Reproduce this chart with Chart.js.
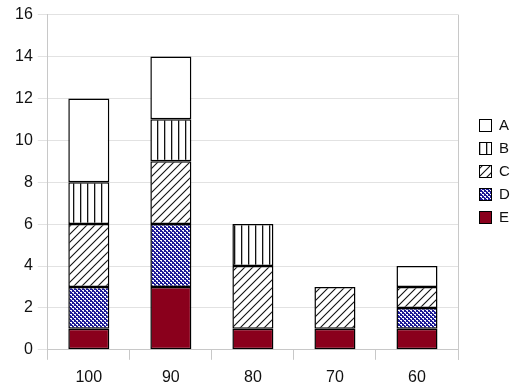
<!doctype html>
<html lang="en">
  <head>
    <meta charset="utf-8">
    <title>Stacked bars</title>
    <script src="https://cdn.jsdelivr.net/npm/chart.js"></script>
    <style>
      body { margin: 0; background: #fff; }
    </style>
  </head>
  <body>
    <canvas id="chart" width="519" height="389"></canvas>
    <script>
      var categories = ["100", "90", "80", "70", "60"];
      var seriesA = [4, 3, 0, 0, 1];
      var seriesB = [2, 2, 2, 0, 0];
      var seriesC = [3, 3, 3, 2, 1];
      var seriesD = [2, 3, 0, 0, 1];
      var seriesE = [1, 3, 1, 1, 1];
      var legendOrder = ["A", "B", "C", "D", "E"];

      // little tiles used as fills
      function makeTile(w, h, draw) {
        var c = document.createElement("canvas");
        c.width = w;
        c.height = h;
        var g = c.getContext("2d");
        g.fillStyle = "#fff";
        g.fillRect(0, 0, w, h);
        draw(g);
        return document.getElementById("chart").getContext("2d").createPattern(c, "repeat");
      }

      var vertLines = makeTile(7, 7, function(g) {
        g.fillStyle = "#111";
        g.fillRect(3, 0, 1.3, 7);
      });

      var diagLines = makeTile(8, 8, function(g) {
        g.strokeStyle = "#111";
        g.lineWidth = 1.1;
        g.beginPath();
        g.moveTo(-1, 9); g.lineTo(9, -1);
        g.moveTo(-1, 1); g.lineTo(1, -1);
        g.moveTo(7, 9); g.lineTo(9, 7);
        g.stroke();
      });

      var checks = makeTile(4, 4, function(g) {
        g.fillStyle = "#1c1a96";
        g.fillRect(0, 0, 4, 4);
        g.fillStyle = "#fff";
        g.fillRect(0, 0, 2, 1);
        g.fillRect(2, 2, 2, 1);
        g.fillStyle = "#d8d8f0";
        g.fillRect(1, 1, 1, 1);
        g.fillRect(3, 3, 1, 1);
      });

      // right frame line + legend at the side
      var extras = {
        id: "extras",
        afterDraw: function(chart) {
          var a = chart.chartArea;
          var ctx = chart.ctx;
          ctx.save();
          ctx.strokeStyle = "#c8c8c8";
          ctx.lineWidth = 1;
          ctx.beginPath();
          ctx.moveTo(Math.round(a.right) + 0.5, a.top);
          ctx.lineTo(Math.round(a.right) + 0.5, a.bottom + 10);
          ctx.stroke();

          var x = Math.round(a.right) + 21;
          var y = 119;
          ctx.font = "15px 'Liberation Sans'";
          ctx.textBaseline = "middle";
          legendOrder.forEach(function(name) {
            var d = chart.data.datasets.find(function(s) { return s.label === name; });
            ctx.fillStyle = d.backgroundColor;
            ctx.fillRect(x, y, 13, 13);
            ctx.strokeStyle = "#000";
            ctx.lineWidth = 1;
            ctx.strokeRect(x + 0.5, y + 0.5, 12, 12);
            ctx.fillStyle = "#111";
            ctx.fillText(name, x + 20, y + 7);
            y += 23;
          });
          ctx.restore();
        }
      };

      function ds(label, data, fill) {
        return {
          label: label,
          data: data,
          backgroundColor: fill,
          borderColor: "#000",
          borderWidth: 1.5,
          borderSkipped: false,
          barPercentage: 0.5,
          categoryPercentage: 1
        };
      }

      new Chart(document.getElementById("chart"), {
        type: "bar",
        data: {
          labels: categories,
          datasets: [
            ds("E", seriesE, "#8a001c"),
            ds("D", seriesD, checks),
            ds("C", seriesC, diagLines),
            ds("B", seriesB, vertLines),
            ds("A", seriesA, "#fff")
          ]
        },
        options: {
          responsive: false,
          animation: false,
          layout: { padding: { left: 10, top: 8, right: 61, bottom: -6 } },
          scales: {
            x: {
              stacked: true,
              grid: { drawOnChartArea: false, offset: true, tickLength: 10, color: "#c8c8c8" },
              border: { color: "#c8c8c8" },
              ticks: { color: "#111", font: { family: "Liberation Sans", size: 16 }, padding: 8 }
            },
            y: {
              stacked: true,
              min: 0,
              max: 16,
              grid: { color: "#e2e2e2", tickLength: 10 },
              border: { color: "#c8c8c8" },
              ticks: { stepSize: 2, color: "#111", font: { family: "Liberation Sans", size: 16 }, padding: 5 }
            }
          },
          plugins: {
            tooltip: { enabled: false },
            legend: { display: false }
          }
        },
        plugins: [extras]
      });
    </script>
  </body>
</html>
